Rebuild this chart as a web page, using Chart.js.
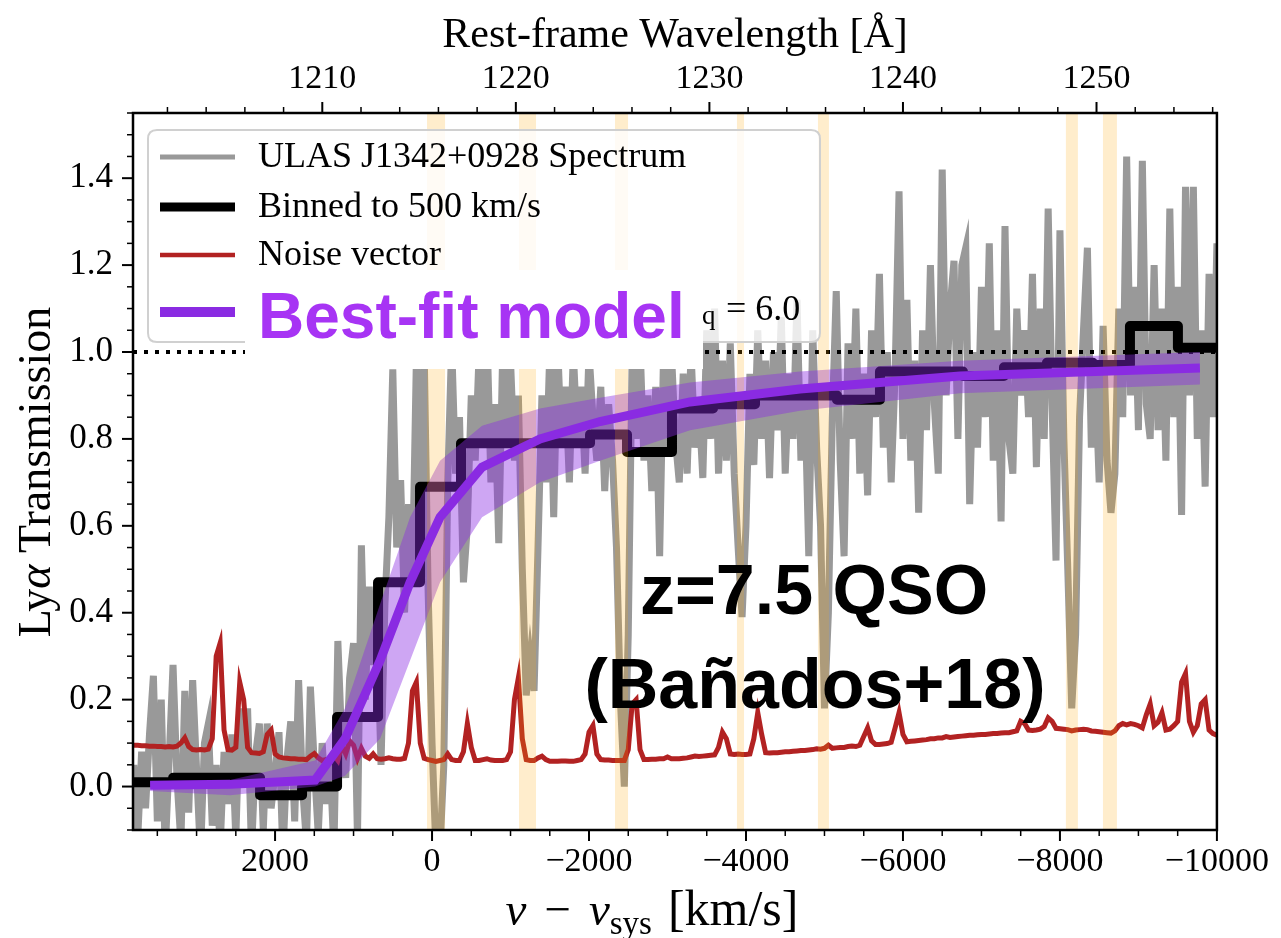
<!DOCTYPE html>
<html>
<head>
<meta charset="utf-8">
<script src="https://cdn.jsdelivr.net/npm/chart.js@4.4.0/dist/chart.umd.min.js"></script>
<style>
html, body { margin: 0; padding: 0; background: #fff; }
#wrap { width: 1281px; height: 938px; }
</style>
</head>
<body>
<div id="wrap"><canvas id="graph" width="1281" height="938"></canvas></div>
<script>
// spectrum pixels: 50 km/s steps from +3800 down to -10000 km/s
var velStart = 3800, velStep = -50;

var spectrum = [
    0.05, -0.12, 0.08, -0.05, 0.12, 0.255, -0.08, 0.20, -0.15, 0.06,
    0.28, 0.02, -0.13, 0.22, -0.06, 0.245, 0.04, -0.16, 0.10, 0.145,
    -0.09, 0.05, -0.14, 0.08, -0.04, 0.12, -0.12, 0.18, 0.00, 0.18,
    -0.15, 0.07, 0.145, -0.10, 0.145, -0.05, 0.03, 0.125, -0.16, 0.06,
    0.15, -0.08, 0.245, 0.00, -0.13, 0.23, 0.05, -0.11, 0.10, -0.04,
    0.06, -0.15, 0.335, 0.10, 0.02, 0.25, 0.33, -0.12, 0.555, 0.20,
    0.46, 0.28, 0.38, 0.05, 0.42, 0.62, 0.96, 0.55, 0.705, 0.40,
    0.65, 0.48, 0.98, 0.70, 1.0, 0.45, 0.10, -0.15, -0.15, 0.05,
    0.70, 1.02, 0.72, 0.85, 0.47, 0.60, 0.90, 0.75, 1.0, 0.80,
    1.05, 0.70, 0.88, 0.56, 1.0, 0.80, 0.98, 0.75, 0.90, 0.50,
    0.21, 0.30, 0.22, 0.55, 0.90, 0.70, 1.0, 0.62, 1.02, 0.78,
    0.92, 0.70, 1.0, 0.80, 0.92, 0.72, 1.0, 0.85, 0.75, 0.92,
    0.68, 0.88, 0.75, 0.55, 0.20, 0.00, 0.35, 1.0, 0.80, 1.02,
    0.75, 0.90, 0.68, 0.92, 0.53, 1.0, 0.78, 1.0, 0.80, 0.70,
    0.95, 0.72, 1.0, 0.78, 0.88, 0.71, 1.05, 0.80, 1.10, 0.72,
    0.98, 0.75, 1.02, 0.72, 0.55, 0.39, 0.60, 0.95, 0.74, 1.05,
    0.80, 0.98, 0.71, 1.00, 0.82, 1.08, 0.72, 0.95, 0.80, 1.12,
    0.75, 0.90, 0.53, 1.05, 0.78, 0.60, 0.18, 0.40, 0.85, 1.14,
    0.75, 0.53, 1.02, 0.80, 1.10, 0.72, 0.95, 0.67, 1.05, 0.85,
    1.18, 0.78, 1.00, 0.70, 0.95, 1.37, 0.80, 1.12, 0.75, 0.98,
    0.63, 1.05, 0.82, 1.20, 0.88, 0.72, 1.42, 0.90, 1.10, 1.21,
    0.80, 1.20, 1.24, 0.65, 1.00, 0.78, 1.15, 0.85, 1.25, 0.75,
    1.05, 0.61, 1.29, 0.80, 0.72, 1.10, 0.90, 1.05, 0.85, 1.18,
    0.735, 1.10, 0.80, 1.33, 0.88, 0.52, 1.28, 0.80, 0.50, 0.18,
    0.35, 0.85, 1.05, 1.24, 0.78, 0.95, 0.70, 1.06, 0.75, 0.63,
    0.72, 1.10, 0.85, 1.45, 0.90, 1.15, 0.82, 1.44, 0.88, 0.80,
    1.20, 0.82, 1.10, 0.75, 1.33, 0.85, 1.15, 0.625, 1.38, 0.90,
    1.38, 0.80, 1.05, 0.69, 1.18, 0.85, 1.25
];

var noise = [
    0.095, 0.095, 0.094, 0.094, 0.093, 0.093, 0.092, 0.092, 0.091, 0.092,
    0.091, 0.093, 0.100, 0.112, 0.092, 0.085, 0.084, 0.085, 0.084, 0.086,
    0.110, 0.300, 0.330, 0.130, 0.085, 0.084, 0.090, 0.240, 0.200, 0.090,
    0.078, 0.077, 0.076, 0.080, 0.120, 0.130, 0.075, 0.068, 0.066, 0.065,
    0.064, 0.064, 0.063, 0.063, 0.062, 0.070, 0.076, 0.066, 0.060, 0.062,
    0.060, 0.072, 0.060, 0.095, 0.075, 0.105, 0.095, 0.065, 0.088, 0.070,
    0.065, 0.075, 0.064, 0.063, 0.064, 0.066, 0.064, 0.063, 0.063, 0.065,
    0.100, 0.220, 0.240, 0.100, 0.065, 0.062, 0.060, 0.058, 0.060, 0.062,
    0.075, 0.062, 0.060, 0.060, 0.080, 0.145, 0.090, 0.060, 0.060, 0.062,
    0.064, 0.061, 0.060, 0.060, 0.060, 0.062, 0.080, 0.200, 0.250, 0.110,
    0.062, 0.060, 0.060, 0.066, 0.070, 0.062, 0.058, 0.058, 0.058, 0.059,
    0.059, 0.058, 0.058, 0.060, 0.062, 0.075, 0.125, 0.140, 0.075, 0.062,
    0.061, 0.061, 0.060, 0.060, 0.060, 0.060, 0.085, 0.190, 0.200, 0.085,
    0.062, 0.062, 0.063, 0.063, 0.064, 0.064, 0.068, 0.064, 0.064, 0.064,
    0.065, 0.066, 0.068, 0.070, 0.069, 0.070, 0.071, 0.072, 0.073, 0.090,
    0.125, 0.110, 0.075, 0.074, 0.075, 0.074, 0.074, 0.075, 0.110, 0.170,
    0.120, 0.078, 0.077, 0.078, 0.078, 0.079, 0.080, 0.080, 0.081, 0.082,
    0.083, 0.083, 0.084, 0.085, 0.087, 0.086, 0.088, 0.095, 0.088, 0.089,
    0.090, 0.090, 0.092, 0.093, 0.092, 0.095, 0.115, 0.135, 0.105, 0.097,
    0.097, 0.098, 0.099, 0.102, 0.135, 0.170, 0.120, 0.103, 0.104, 0.105,
    0.106, 0.107, 0.108, 0.110, 0.110, 0.112, 0.112, 0.115, 0.113, 0.114,
    0.115, 0.116, 0.117, 0.118, 0.118, 0.119, 0.120, 0.120, 0.121, 0.122,
    0.122, 0.123, 0.124, 0.124, 0.126, 0.128, 0.150, 0.145, 0.130, 0.129,
    0.130, 0.132, 0.138, 0.158, 0.150, 0.134, 0.133, 0.132, 0.131, 0.128,
    0.130, 0.131, 0.132, 0.131, 0.128, 0.127, 0.126, 0.125, 0.124, 0.123,
    0.128, 0.140, 0.145, 0.142, 0.145, 0.143, 0.140, 0.135, 0.165, 0.190,
    0.140, 0.148, 0.170, 0.130, 0.132, 0.140, 0.150, 0.240, 0.260, 0.150,
    0.125, 0.140, 0.190, 0.200, 0.130, 0.122, 0.118
];

// binned spectrum: bin edges (km/s) and bin values
var binEdges = [3810, 3299, 2739, 2191, 1656, 1210, 688, 153, -369, -930, -1465, -2013, -2484,
    -3057, -3580, -4115, -4650, -5159, -5707, -6255, -6764, -7287, -7834, -8420, -8892, -9503, -10000];
var binValues = [0.01, 0.02, 0.02, -0.02, 0.00, 0.16, 0.47, 0.69, 0.79, 0.79, 0.79, 0.81, 0.77,
    0.87, 0.88, 0.90, 0.90, 0.89, 0.955, 0.955, 0.945, 0.965, 0.975, 0.97, 1.06, 1.01];

// best-fit model and its spread
var modelVel  = [3592, 2573, 1490, 1108, 662, 280, -102, -637, -1376, -2140, -3287, -4688, -6726, -9783];
var modelT    = [0.003, 0.005, 0.015, 0.11, 0.29, 0.47, 0.62, 0.735, 0.80, 0.84, 0.885, 0.915, 0.945, 0.963];
var modelHigh = [0.012, 0.015, 0.06, 0.18, 0.42, 0.62, 0.75, 0.83, 0.87, 0.895, 0.93, 0.955, 0.98, 1.0];
var modelLow  = [-0.01, -0.02, 0.0, 0.025, 0.11, 0.29, 0.47, 0.62, 0.70, 0.75, 0.82, 0.865, 0.905, 0.925];

// masked (shaded) velocity ranges
var maskStart = [64, -1108, -2331, -3885, -4917, -8076, -8548];
var maskEnd   = [-166, -1325, -2497, -3975, -5057, -8229, -8726];

var velTicks = [2000, 0, -2000, -4000, -6000, -8000, -10000];
var wavTicks = [1210, 1220, 1230, 1240, 1250];
var transTicks = [0.0, 0.2, 0.4, 0.6, 0.8, 1.0, 1.2, 1.4];
var legendLabels = ['ULAS J1342+0928 Spectrum', 'Binned to 500 km/s', 'Noise vector'];

var velMin = -10000, velMax = 3810;
var yMin = -0.1, yMax = 1.55;
var lyaRest = 1215.67, cLight = 299792.458;

var SERIF = '"Liberation Serif", "DejaVu Serif", serif';
var SANS = '"Liberation Sans", Arial, sans-serif';

function pts(xs, ys) {
    return ys.map(function (y, i) { return { x: xs[i], y: y }; });
}

var specVel = spectrum.map(function (_, i) { return velStart + i * velStep; });
var binPts = pts(binEdges, binValues.concat([binValues[binValues.length - 1]]));

function fixWidth(w) { return function (s) { s.width = w; }; }
function fixHeight(h) { return function (s) { s.height = h; }; }
function setTicks(list) { return function (s) { s.ticks = list.map(function (v) { return { value: v }; }); }; }

function drawTicks(ctx, scale, majors, lo, hi, step, side, a) {
    function one(v, len) {
        var p = scale.getPixelForValue(v);
        ctx.beginPath();
        if (side === 'bottom') { ctx.moveTo(p, a.bottom); ctx.lineTo(p, a.bottom + len); }
        else if (side === 'top') { ctx.moveTo(p, a.top); ctx.lineTo(p, a.top - len); }
        else { ctx.moveTo(a.left, p); ctx.lineTo(a.left - len, p); }
        ctx.stroke();
    }
    ctx.lineWidth = 1.5;
    for (var v = lo; v <= hi + 1e-9; v += step) {
        var isMajor = majors.some(function (m) { return Math.abs(m - v) < step / 10; });
        if (!isMajor) one(v, 6);
    }
    ctx.lineWidth = 2;
    majors.forEach(function (m) { one(m, 11); });
}

function roundRect(ctx, x, y, w, h, r) {
    ctx.beginPath();
    ctx.moveTo(x + r, y);
    ctx.lineTo(x + w - r, y); ctx.quadraticCurveTo(x + w, y, x + w, y + r);
    ctx.lineTo(x + w, y + h - r); ctx.quadraticCurveTo(x + w, y + h, x + w - r, y + h);
    ctx.lineTo(x + r, y + h); ctx.quadraticCurveTo(x, y + h, x, y + h - r);
    ctx.lineTo(x, y + r); ctx.quadraticCurveTo(x, y, x + r, y);
    ctx.closePath();
}

function drawParts(ctx, parts, cx, y) {
    var total = 0;
    parts.forEach(function (p) { ctx.font = p.font; total += ctx.measureText(p.text).width + (p.gap || 0); });
    var x = cx - total / 2;
    ctx.textAlign = 'left';
    parts.forEach(function (p) {
        ctx.font = p.font;
        ctx.fillText(p.text, x, y + (p.dy || 0));
        x += ctx.measureText(p.text).width + (p.gap || 0);
    });
}

var overlay = {
    id: 'overlay',
    afterDatasetDraw: function (chart, args) {
        if (args.index !== 2) return;
        var ctx = chart.ctx, a = chart.chartArea, xs = chart.scales.x;
        ctx.save();
        ctx.beginPath();
        ctx.rect(a.left, a.top, a.right - a.left, a.bottom - a.top);
        ctx.clip();
        ctx.fillStyle = 'rgba(255,165,0,0.2)';
        for (var k = 0; k < maskStart.length; k++) {
            var x1 = xs.getPixelForValue(maskStart[k]), x2 = xs.getPixelForValue(maskEnd[k]);
            ctx.fillRect(Math.min(x1, x2), a.top, Math.abs(x2 - x1), a.bottom - a.top);
        }
        ctx.restore();
    },
    afterDraw: function (chart) {
        var ctx = chart.ctx, a = chart.chartArea;
        ctx.save();
        ctx.strokeStyle = '#000';
        ctx.fillStyle = '#000';

        // ticks
        drawTicks(ctx, chart.scales.x, velTicks, -10000, 3500, 500, 'bottom', a);
        drawTicks(ctx, chart.scales.x2, wavTicks, 1202, 1256, 2, 'top', a);
        drawTicks(ctx, chart.scales.y, transTicks, -0.1, 1.55, 0.05, 'left', a);

        // frame
        ctx.lineWidth = 2.5;
        ctx.strokeRect(a.left, a.top, a.right - a.left, a.bottom - a.top);

        // axis titles
        ctx.textBaseline = 'alphabetic';
        ctx.textAlign = 'center';
        ctx.font = '42px ' + SERIF;
        ctx.fillText('Rest-frame Wavelength [\u00c5]', 675, 47);

        drawParts(ctx, [
            { text: 'v', font: 'italic 47px ' + SERIF, gap: 18 },
            { text: '\u2212', font: '47px ' + SERIF, gap: 18 },
            { text: 'v', font: 'italic 47px ' + SERIF },
            { text: 'sys', font: '33px ' + SERIF, dy: 9, gap: 16 },
            { text: '[km/s]', font: '50px ' + SERIF }
        ], 652, 925);

        ctx.save();
        ctx.translate(50, 472);
        ctx.rotate(-Math.PI / 2);
        drawParts(ctx, [
            { text: 'Ly', font: '46px ' + SERIF },
            { text: '\u03b1', font: 'italic 46px ' + SERIF },
            { text: ' Transmission', font: '46px ' + SERIF }
        ], 0, 0);
        ctx.restore();

        // legend
        roundRect(ctx, 148, 130, 672, 212, 9);
        ctx.fillStyle = 'rgba(255,255,255,0.8)';
        ctx.fill();
        ctx.strokeStyle = '#d0d0d0';
        ctx.lineWidth = 2;
        ctx.stroke();

        // white box behind the big label
        ctx.fillStyle = '#fff';
        ctx.fillRect(245, 270, 458, 99);

        var rows = [157, 207, 255, 312];
        var lineStyles = [['#999999', 5], ['#000000', 9], ['#b22222', 4.5], ['#8a2be2', 10]];
        rows.forEach(function (y, k) {
            ctx.strokeStyle = lineStyles[k][0];
            ctx.lineWidth = lineStyles[k][1];
            ctx.beginPath(); ctx.moveTo(160, y); ctx.lineTo(235, y); ctx.stroke();
        });
        ctx.fillStyle = '#000';
        ctx.textAlign = 'left';
        ctx.textBaseline = 'middle';
        ctx.font = '36px ' + SERIF;
        legendLabels.forEach(function (t, k) { ctx.fillText(t, 258, rows[k] + 1); });

        ctx.textBaseline = 'alphabetic';
        ctx.font = '27px ' + SERIF;
        ctx.fillText('q', 702, 324);
        ctx.font = '36px ' + SERIF;
        ctx.fillText('= 6.0', 726, 320);

        ctx.fillStyle = '#a734f4';
        ctx.font = 'bold 64px ' + SANS;
        ctx.fillText('Best-fit model', 258, 338);

        ctx.fillStyle = '#000';
        ctx.textAlign = 'center';
        ctx.font = 'bold 70px ' + SANS;
        ctx.fillText('z=7.5 QSO', 814, 614);
        ctx.fillText('(Ba\u00f1ados+18)', 815, 708);

        ctx.restore();
    }
};

Chart.defaults.font.family = SERIF;
Chart.defaults.color = '#000';

var chart = new Chart(document.getElementById('graph').getContext('2d'), {
    type: 'line',
    data: {
        datasets: [
            {   // 0: best-fit model
                data: pts(modelVel, modelT), borderColor: '#8a2be2', borderWidth: 9,
                pointRadius: 0, fill: false, order: 0
            },
            {   // 1: model upper bound
                data: pts(modelVel, modelHigh), borderWidth: 0, borderColor: 'rgba(0,0,0,0)',
                pointRadius: 0, fill: false, order: 1
            },
            {   // 2: model lower bound, filled to upper
                data: pts(modelVel, modelLow), borderWidth: 0, borderColor: 'rgba(0,0,0,0)',
                backgroundColor: 'rgba(138,43,226,0.42)', pointRadius: 0, fill: '-1', order: 1
            },
            {   // 3: noise
                data: pts(specVel, noise), borderColor: '#b22222', borderWidth: 5,
                pointRadius: 0, fill: false, order: 3
            },
            {   // 4: binned
                data: binPts, borderColor: '#000', borderWidth: 10, stepped: true,
                pointRadius: 0, fill: false, order: 4, borderJoinStyle: 'round', borderCapStyle: 'round'
            },
            {   // 5: continuum level
                data: [{ x: velMax, y: 1 }, { x: velMin, y: 1 }], borderColor: '#000',
                borderWidth: 4, borderDash: [4, 7], pointRadius: 0, fill: false, order: 5
            },
            {   // 6: spectrum
                data: pts(specVel, spectrum), borderColor: '#999999', borderWidth: 7,
                pointRadius: 0, fill: false, order: 6
            }
        ]
    },
    options: {
        responsive: false,
        animation: false,
        events: [],
        layout: { padding: { left: 0, right: 64, top: 0, bottom: 0 } },
        elements: { line: { tension: 0 } },
        plugins: { legend: { display: false }, tooltip: { enabled: false } },
        scales: {
            x: {
                type: 'linear', position: 'bottom', reverse: true, min: velMin, max: velMax,
                grid: { display: false, drawTicks: false }, border: { display: false },
                afterBuildTicks: setTicks(velTicks), afterFit: fixHeight(108),
                ticks: {
                    autoSkip: false, maxRotation: 0, padding: 12, font: { size: 34 },
                    callback: function (v) { return v < 0 ? '\u2212' + (-v) : '' + v; }
                }
            },
            x2: {
                type: 'linear', position: 'top',
                min: lyaRest * (1 - velMax / cLight), max: lyaRest * (1 - velMin / cLight),
                grid: { display: false, drawTicks: false }, border: { display: false },
                afterBuildTicks: setTicks(wavTicks), afterFit: fixHeight(113),
                ticks: {
                    autoSkip: false, maxRotation: 0, padding: 14, font: { size: 34 },
                    callback: function (v) { return '' + v; }
                }
            },
            y: {
                type: 'linear', position: 'left', min: yMin, max: yMax,
                grid: { display: false, drawTicks: false }, border: { display: false },
                afterBuildTicks: setTicks(transTicks), afterFit: fixWidth(133),
                ticks: {
                    padding: 20, font: { size: 35 },
                    callback: function (v) { return v.toFixed(1); }
                }
            }
        }
    },
    plugins: [overlay]
});
</script>
</body>
</html>
